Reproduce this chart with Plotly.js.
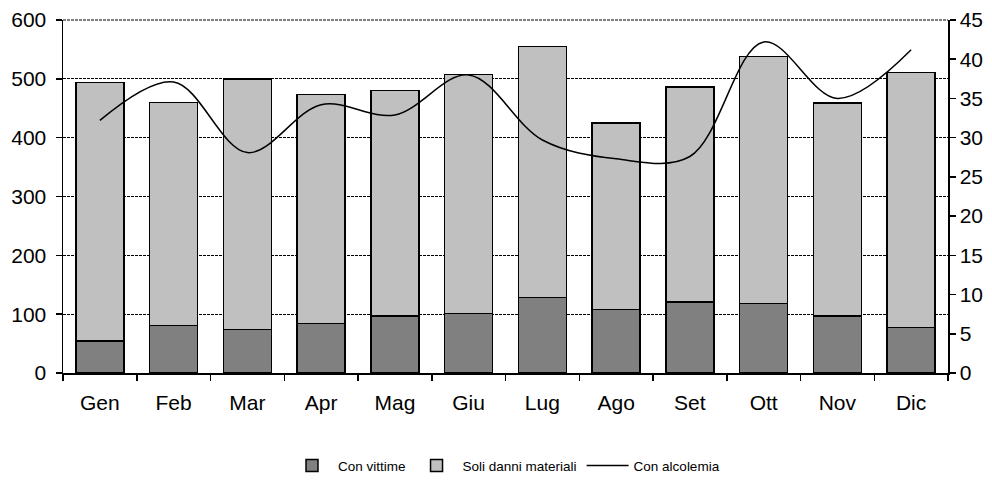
<!DOCTYPE html>
<html>
<head>
<meta charset="utf-8">
<script src="https://cdn.plot.ly/plotly-3.0.1.min.js"></script>
<style>html,body{margin:0;padding:0;background:#fff;}#chart{width:992px;height:484px;}</style>
</head>
<body>
<div id="chart"></div>
<script>
const months = ["Gen","Feb","Mar","Apr","Mag","Giu","Lug","Ago","Set","Ott","Nov","Dic"];
const conVittime = [54, 81, 74, 84, 97, 101, 128, 108, 121, 118, 97, 77];
const totali = [494, 460, 500, 473, 480, 507, 555, 425, 486, 538, 459, 511];
const soliDanni = totali.map((t, i) => t - conVittime[i]);
const conAlcolemia = [32.2, 37.1, 28.1, 34.2, 32.9, 38.0, 29.7, 27.3, 27.6, 42.2, 35.0, 41.2];

const font = {family: "Liberation Sans, Arial, sans-serif", color: "#000"};

const traces = [
  {type: "bar", name: "Con vittime", x: months, y: conVittime,
   marker: {color: "#808080", line: {color: "#000", width: 1.5}}},
  {type: "bar", name: "Soli danni materiali", x: months, y: soliDanni,
   marker: {color: "#C0C0C0", line: {color: "#000", width: 1.5}}},
  {type: "scatter", mode: "lines", name: "Con alcolemia", x: months, y: conAlcolemia,
   yaxis: "y2", line: {color: "#000", width: 1.5, shape: "spline", smoothing: 1}}
];

const layout = {
  width: 992, height: 484,
  margin: {l: 63, r: 44, t: 20, b: 111, autoexpand: false},
  paper_bgcolor: "#fff", plot_bgcolor: "#fff",
  barmode: "stack", bargap: 0.35,
  font: Object.assign({size: 21}, font),
  showlegend: true,
  legend: {orientation: "h", x: 0.5, xanchor: "center", y: -0.263, yanchor: "middle",
           font: Object.assign({size: 13.5}, font), traceorder: "normal", itemwidth: 42},
  xaxis: {type: "category", showline: true, linecolor: "#000", linewidth: 1.5,
          ticks: "outside", tickson: "boundaries", ticklen: 6, tickcolor: "#000", tickwidth: 1.5,
          ticklabelstandoff: 10, automargin: false,
          showgrid: false, zeroline: false, tickfont: Object.assign({size: 21}, font)},
  yaxis: {range: [0, 600], dtick: 100, showline: true, linecolor: "#000", linewidth: 1.5,
          ticks: "outside", ticklen: 6, tickcolor: "#000", tickwidth: 1.5,
          ticklabelstandoff: 5, automargin: false,
          showgrid: true, gridcolor: "#000", gridwidth: 1, griddash: "3px,1px",
          zeroline: false, tickfont: Object.assign({size: 21}, font)},
  yaxis2: {range: [0, 45], dtick: 5, overlaying: "y", side: "right",
           showline: true, linecolor: "#000", linewidth: 1.5,
           ticks: "outside", ticklen: 6, tickcolor: "#000", tickwidth: 1.5,
           automargin: false,
           showgrid: false, zeroline: false, tickfont: Object.assign({size: 21}, font)},
  shapes: [{type: "line", xref: "paper", yref: "y domain", x0: 0, x1: 1, y0: 1, y1: 1,
            line: {color: "#000", width: 1, dash: "3px,1px"}, layer: "below"}]
};

Plotly.newPlot("chart", traces, layout, {displayModeBar: false, staticPlot: true});
</script>
</body>
</html>
